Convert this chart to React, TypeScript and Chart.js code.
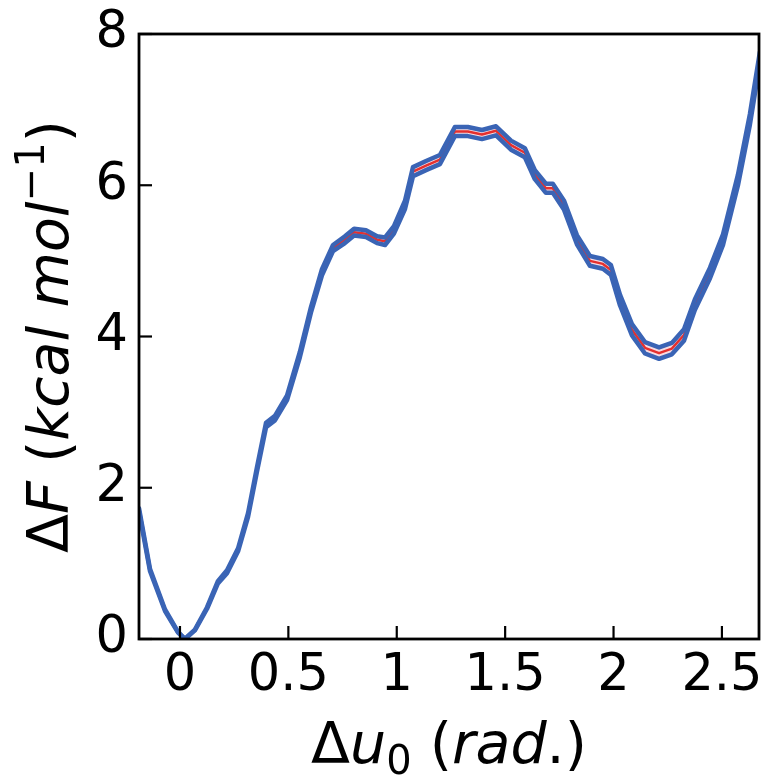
import React, { useEffect, useRef } from "react";
import { Chart, registerables } from "chart.js";

Chart.register(...registerables);

// ---- data ----
const xValues = [
  -0.189, -0.138, -0.069, -0.009, 0.023, 0.069, 0.125, 0.175, 0.217, 0.268,
  0.314, 0.355, 0.397, 0.438, 0.494, 0.553, 0.604, 0.655, 0.706, 0.761,
  0.803, 0.858, 0.909, 0.946, 0.987, 1.038, 1.075, 1.135, 1.199, 1.268,
  1.328, 1.393, 1.458, 1.527, 1.591, 1.637, 1.688, 1.72, 1.771, 1.831,
  1.891, 1.951, 1.988, 2.03, 2.085, 2.145, 2.21, 2.269, 2.325, 2.375,
  2.445, 2.505, 2.574, 2.629, 2.675,
];
const freeEnergy = [
  1.71, 0.91, 0.38, 0.09, 0.0, 0.12, 0.41, 0.75, 0.89, 1.18,
  1.64, 2.24, 2.83, 2.92, 3.19, 3.76, 4.35, 4.85, 5.17, 5.28,
  5.38, 5.36, 5.28, 5.26, 5.41, 5.74, 6.18, 6.26, 6.34, 6.71,
  6.71, 6.67, 6.72, 6.53, 6.43, 6.14, 5.96, 5.96, 5.74, 5.28,
  5.0, 4.96, 4.88, 4.48, 4.09, 3.85, 3.78, 3.84, 4.02, 4.42,
  4.84, 5.28, 6.07, 6.87, 7.69,
];
const uncertainty = [
  0.02, 0.015, 0.01, 0.005, 0.0, 0.005, 0.01, 0.015, 0.02, 0.02,
  0.025, 0.03, 0.03, 0.03, 0.03, 0.035, 0.035, 0.04, 0.04, 0.045,
  0.045, 0.045, 0.045, 0.05, 0.05, 0.055, 0.06, 0.06, 0.06, 0.06,
  0.06, 0.06, 0.06, 0.06, 0.06, 0.06, 0.06, 0.06, 0.06, 0.06,
  0.065, 0.065, 0.065, 0.07, 0.075, 0.075, 0.075, 0.075, 0.075, 0.07,
  0.07, 0.07, 0.07, 0.07, 0.07,
];
const xTicks = [0, 0.5, 1, 1.5, 2, 2.5];
const yTicks = [0, 2, 4, 6, 8];
const xTitle = [
  { t: "Δ" },
  { t: "u", it: true },
  { t: "0", sub: true },
  { t: " (" },
  { t: "rad", it: true },
  { t: ".)" },
];
const yTitle = [
  { t: "Δ" },
  { t: "F", it: true },
  { t: " (" },
  { t: "kcal mol", it: true },
  { t: "−1", sup: true },
  { t: ")" },
];

const BLUE = "#3a64b5";
const RED = "#e5302e";
const FONT = '"DejaVu Sans", sans-serif';

type Seg = { t: string; it?: boolean; sub?: boolean; sup?: boolean };

function drawRich(ctx: CanvasRenderingContext2D, segs: Seg[], size: number, cx: number, by: number) {
  const fontFor = (s: Seg) =>
    `${s.it ? "italic " : ""}${s.sub || s.sup ? Math.round(size * 0.7) : size}px ${FONT}`;
  const widths = segs.map((s) => {
    ctx.font = fontFor(s);
    return ctx.measureText(s.t).width;
  });
  const total = widths.reduce((a, b) => a + b, 0);
  let x = cx - total / 2;
  ctx.textAlign = "left";
  ctx.textBaseline = "alphabetic";
  segs.forEach((s, i) => {
    ctx.font = fontFor(s);
    const dy = s.sub ? size * 0.2 : s.sup ? -size * 0.42 : 0;
    ctx.fillText(s.t, x, by + dy);
    x += widths[i];
  });
}

const framePlugin = {
  id: "frameTicks",
  afterDatasetsDraw(chart: any) {
    const { ctx, chartArea, scales } = chart;
    const { left, right, top, bottom } = chartArea;
    ctx.save();
    ctx.strokeStyle = "#000";
    ctx.lineWidth = 2.2;
    const tl = 13;
    xTicks.forEach((v) => {
      const px = scales.x.getPixelForValue(v);
      ctx.beginPath();
      ctx.moveTo(px, bottom);
      ctx.lineTo(px, bottom - tl);
      ctx.stroke();
    });
    yTicks.forEach((v) => {
      const py = scales.y.getPixelForValue(v);
      ctx.beginPath();
      ctx.moveTo(left, py);
      ctx.lineTo(left + tl, py);
      ctx.stroke();
    });
    ctx.lineWidth = 2.8;
    ctx.strokeRect(left, top, right - left, bottom - top);
    ctx.restore();
  },
  afterDraw(chart: any) {
    const { ctx, chartArea } = chart;
    ctx.save();
    ctx.fillStyle = "#000";
    drawRich(ctx, xTitle, 57, (chartArea.left + chartArea.right) / 2, 763);
    ctx.translate(68, (chartArea.top + chartArea.bottom) / 2);
    ctx.rotate(-Math.PI / 2);
    drawRich(ctx, yTitle, 57, 0, 0);
    ctx.restore();
  },
};

export default function App() {
  const ref = useRef<HTMLCanvasElement>(null);
  useEffect(() => {
    document.body.style.margin = "0";
    document.body.style.overflow = "hidden";
    const canvas = ref.current!;
    const upper = xValues.map((x, i) => ({ x, y: freeEnergy[i] + uncertainty[i] }));
    const lower = xValues.map((x, i) => ({ x, y: freeEnergy[i] - uncertainty[i] }));
    const center = xValues.map((x, i) => ({ x, y: freeEnergy[i] }));
    const tickFont = { family: FONT, size: 51 };
    const chart = new Chart(canvas, {
      type: "line",
      data: {
        datasets: [
          { data: upper, borderColor: BLUE, borderWidth: 4.5, fill: false },
          { data: lower, borderColor: BLUE, borderWidth: 4.5, fill: "-1", backgroundColor: "rgba(240,190,200,0.55)" },
          { data: center, borderColor: RED, borderWidth: 2.5, fill: false },
        ],
      },
      options: {
        responsive: false,
        animation: false,
        maintainAspectRatio: false,
        layout: { padding: { top: 34, right: 8, left: 0, bottom: 0 } },
        elements: {
          point: { radius: 0, hoverRadius: 0 },
          line: { tension: 0, borderJoinStyle: "round", borderCapStyle: "round" },
        },
        plugins: {
          legend: { display: false },
          tooltip: { enabled: false },
          filler: { drawTime: "beforeDatasetsDraw" },
        } as any,
        scales: {
          x: {
            type: "linear",
            min: -0.189,
            max: 2.671,
            afterBuildTicks: (s: any) => {
              s.ticks = xTicks.map((v) => ({ value: v }));
            },
            afterFit: (s: any) => {
              s.height = 137;
              s.paddingLeft = 0;
              s.paddingRight = 0;
            },
            grid: { display: false, drawTicks: false },
            border: { display: false },
            ticks: {
              font: tickFont,
              color: "#000",
              padding: 7,
              maxRotation: 0,
              autoSkip: false,
              callback: (v: any) => String(v),
            },
          },
          y: {
            type: "linear",
            min: 0,
            max: 8,
            afterBuildTicks: (s: any) => {
              s.ticks = yTicks.map((v) => ({ value: v }));
            },
            afterFit: (s: any) => {
              s.width = 139;
              s.paddingTop = 0;
              s.paddingBottom = 0;
            },
            grid: { display: false, drawTicks: false },
            border: { display: false },
            ticks: {
              font: tickFont,
              color: "#000",
              padding: 11,
              autoSkip: false,
              callback: (v: any) => String(v),
            },
          },
        },
      },
      plugins: [framePlugin],
    });
    return () => chart.destroy();
  }, []);
  return <canvas ref={ref} width={767} height={776} style={{ display: "block" }} />;
}
